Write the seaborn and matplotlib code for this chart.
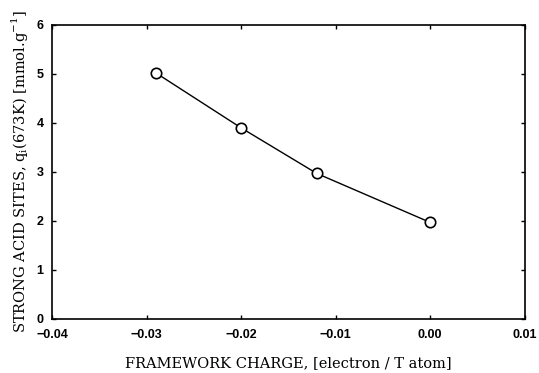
import matplotlib
matplotlib.use("Agg")
import matplotlib.pyplot as plt
import seaborn as sns
import pandas as pd

charge = [-0.029, -0.020, -0.012, 0.000]
acid_sites = [5.02, 3.90, 2.97, 1.97]

x_ticks = [-0.04, -0.03, -0.02, -0.01, 0.00, 0.01]
x_tick_labels = ["\u22120.04", "\u22120.03", "\u22120.02", "\u22120.01", "0.00", "0.01"]
y_ticks = [0, 1, 2, 3, 4, 5, 6]

sns.set_theme(style="ticks")
plt.rcParams['font.family'] = ['DejaVu Serif']

df = pd.DataFrame({"charge": charge, "q": acid_sites})

fig = plt.figure(figsize=(5.39, 3.73), dpi=100)
ax = fig.add_axes([0.0965, 0.145, 0.877, 0.788])

sns.lineplot(data=df, x="charge", y="q", ax=ax, color="black", linewidth=1.0,
             marker="o", markersize=7.5, markerfacecolor="white",
             markeredgecolor="black", markeredgewidth=1.2)

ax.set_xlim(-0.04, 0.01)
ax.set_ylim(0, 6)
ax.set_xticks(x_ticks)
ax.set_xticklabels(x_tick_labels)
ax.set_yticks(y_ticks)
for lab in ax.get_xticklabels() + ax.get_yticklabels():
    lab.set_family("Liberation Sans")
    lab.set_fontweight("bold")
    lab.set_fontsize(9)

ax.tick_params(axis="x", direction="in", length=3, width=1, top=True,
               colors="black", pad=7)
ax.tick_params(axis="y", direction="in", length=3, width=1, right=True,
               colors="black", pad=6)
for s in ax.spines.values():
    s.set_visible(True)
    s.set_color("black")
    s.set_linewidth(1.2)

ax.set_xlabel("FRAMEWORK CHARGE, [electron / T atom]", fontsize=10.5,
              labelpad=11, color="black")
ax.set_ylabel(r"STRONG ACID SITES, q$_\mathregular{i}$(673K) [mmol.g$^\mathregular{-1}$]",
              fontsize=10.5, labelpad=5, color="black")

fig.savefig("out.png", dpi=100, facecolor="white")
